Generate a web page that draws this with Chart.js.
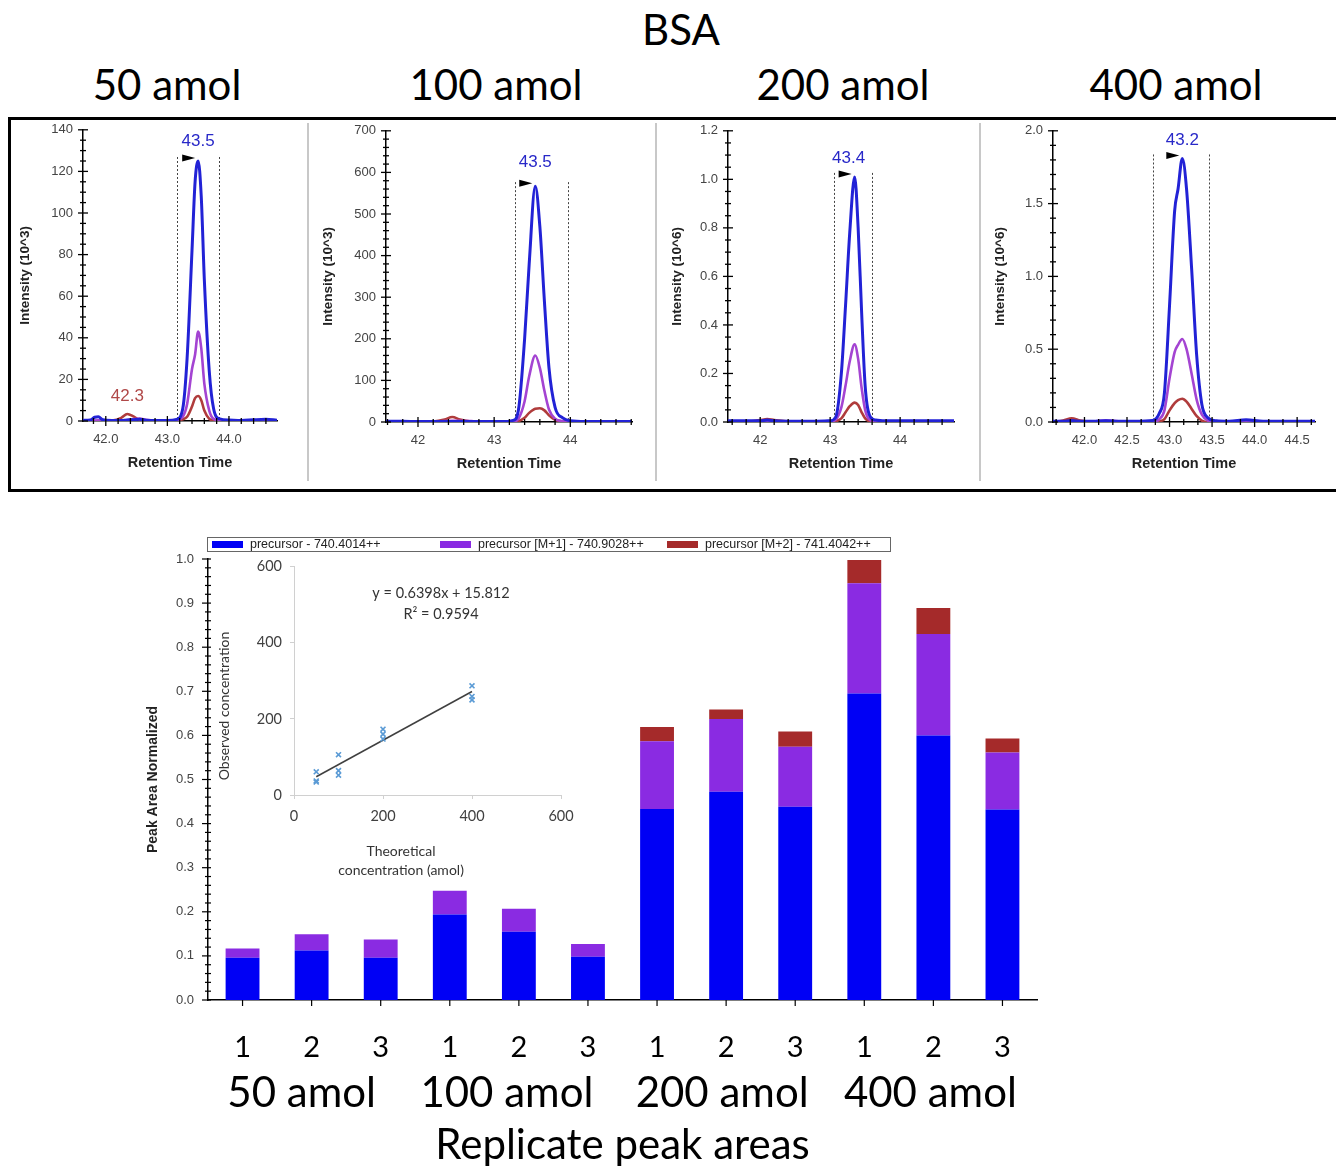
<!DOCTYPE html>
<html><head><meta charset="utf-8">
<script src="https://cdn.jsdelivr.net/npm/chart.js@4.4.1/dist/chart.umd.min.js"></script>
<style>
html,body{margin:0;padding:0;background:#fff;}
#page{position:relative;width:1336px;height:1171px;overflow:hidden;background:#fff;}
.t{position:absolute;font-family:Lato,sans-serif;color:#000;white-space:nowrap;transform:translate(-50%,-50%);line-height:1;font-size:42px;}
canvas{position:absolute;}
#box{position:absolute;left:8px;top:117px;width:1400px;height:375px;border:3px solid #000;box-sizing:border-box;}
.sep{position:absolute;top:123px;height:358px;width:2px;background:#c8c8c8;}
</style></head><body><div id="page">
<div class="t" style="left:681px;top:29px;">BSA</div>
<div class="t" style="left:167px;top:84px;">50 amol</div>
<div class="t" style="left:496px;top:84px;">100 amol</div>
<div class="t" style="left:843px;top:84px;">200 amol</div>
<div class="t" style="left:1176px;top:84px;">400 amol</div>
<div id="box"></div>
<div class="sep" style="left:307px"></div>
<div class="sep" style="left:655px"></div>
<div class="sep" style="left:979px"></div>
<canvas id="c1" width="294" height="374" style="left:12px;top:112px"></canvas>
<canvas id="c2" width="335" height="374" style="left:311px;top:113px"></canvas>
<canvas id="c3" width="312" height="374" style="left:660px;top:113px"></canvas>
<canvas id="c4" width="350" height="374" style="left:983px;top:113px"></canvas>
<canvas id="bar" width="910" height="641" style="left:140px;top:530px"></canvas>
<canvas id="inset" width="400" height="335" style="left:200px;top:550px"></canvas>
</div>
<script>
// ---------- Chromatogram data (retention time, intensity) ----------
const rt1 = [41.63,41.75,41.82,41.88,41.95,42.1,42.25,42.35,42.45,42.55,42.65,42.8,43.0,43.15,43.25,43.32,43.4,43.45,43.5,43.55,43.6,43.68,43.75,43.85,44.0,44.2,44.4,44.6,44.78];
const blue1 = [0.3,0.5,1.8,2.0,0.6,0.2,0.3,0.5,0.6,0.8,0.4,0.2,0.3,0.8,6,30,82,115,125,108,68,24,6,1,0.5,0.3,0.6,0.8,0.4];
const purple1 = [0,0,0.2,0.3,0.2,0,0.2,0.5,0.9,1.2,0.6,0.2,0.2,0.5,2,8,25,32,43,35,18,5,1,0.3,0.2,0,0,0,0];
const red1 = [0,0,0,0,0,0.2,1.5,3.4,2.2,0.5,0.2,0,0,0.2,0.8,2,7,11,12,10,5,1,0.3,0,0,0,0,0,0];

const rt2 = [41.58,41.8,42.0,42.2,42.35,42.45,42.55,42.7,42.9,43.1,43.25,43.32,43.4,43.46,43.54,43.6,43.66,43.72,43.8,43.9,44.0,44.2,44.5,44.81];
const blue2 = [2,2,1,1,1,1,1,1,1,1,4,30,200,380,567,470,290,130,35,10,3,1,1,1];
const purple2 = [0,0,0,1,2,3,3,2,0,0,1,8,50,110,160,130,75,30,8,2,0,0,0,0];
const red2 = [0,0,0,1,6,12,6,1,0,0,0,2,10,22,32,33,28,16,5,1,0,0,0,0];

const rt3 = [41.54,41.8,42.0,42.1,42.2,42.5,42.8,43.0,43.08,43.16,43.22,43.28,43.35,43.4,43.45,43.5,43.56,43.65,43.8,44.0,44.3,44.5,44.77];
const blue3 = [0.005,0.005,0.005,0.008,0.005,0.003,0.003,0.005,0.02,0.2,0.48,0.78,1.01,0.8,0.45,0.15,0.03,0.008,0.005,0.005,0.005,0.005,0.005];
const purple3 = [0,0,0.003,0.005,0.003,0,0,0.002,0.01,0.06,0.15,0.25,0.32,0.26,0.14,0.05,0.01,0.002,0,0,0,0,0];
const red3 = [0,0,0.008,0.012,0.008,0,0,0,0.003,0.015,0.04,0.065,0.08,0.07,0.04,0.015,0.003,0,0,0,0,0,0];

const rt4 = [41.63,41.75,41.85,41.95,42.1,42.25,42.4,42.6,42.8,42.88,42.94,43.0,43.06,43.1,43.15,43.2,43.26,43.32,43.38,43.45,43.55,43.7,43.9,44.1,44.4,44.71];
const blue4 = [0.005,0.005,0.01,0.005,0.005,0.008,0.005,0.005,0.01,0.06,0.2,0.8,1.45,1.6,1.81,1.6,1.05,0.45,0.12,0.03,0.008,0.005,0.015,0.005,0.005,0.005];
const purple4 = [0,0,0.005,0.005,0.005,0.012,0.005,0,0,0.02,0.08,0.3,0.48,0.53,0.57,0.5,0.33,0.15,0.05,0.01,0,0,0.005,0,0,0];
const red4 = [0,0.01,0.025,0.01,0,0,0,0,0,0.005,0.02,0.08,0.13,0.15,0.16,0.14,0.09,0.04,0.01,0,0,0,0,0,0,0];

// tick labels
const xTicks1 = [42.0,43.0,44.0];
const xTicks2 = [42,43,44];
const xTicks3 = [42,43,44];
const xTicks4 = [42.0,42.5,43.0,43.5,44.0,44.5];
const yTicks1 = [0,20,40,60,80,100,120,140];
const yTicks2 = [0,100,200,300,400,500,600,700];
const yTicks3 = [0,0.2,0.4,0.6,0.8,1.0,1.2];
const yTicks4 = [0,0.5,1.0,1.5,2.0];

// peak annotations
const peakLabels = ['43.5','43.5','43.4','43.2'];
const peakRT = [43.5,43.54,43.35,43.15];
const peakTop = [125,567,1.01,1.81];
const peakBounds = [[43.15,43.84],[43.28,43.97],[43.05,43.6],[42.81,43.46]];

// ---------- Bar chart data ----------
const replicateLabels = ['1','2','3','1','2','3','1','2','3','1','2','3'];
const groupLabels = ['50 amol','100 amol','200 amol','400 amol'];
const seriesNames = ['precursor - 740.4014++','precursor [M+1] - 740.9028++','precursor [M+2] - 741.4042++'];
const blueVals = [0.096,0.112,0.096,0.194,0.155,0.098,0.433,0.472,0.438,0.695,0.600,0.432];
const purpleVals = [0.021,0.037,0.041,0.054,0.052,0.029,0.154,0.165,0.136,0.250,0.230,0.129];
const redVals = [0,0,0,0,0,0,0.032,0.022,0.035,0.053,0.059,0.032];
const barYTicks = [0,0.1,0.2,0.3,0.4,0.5,0.6,0.7,0.8,0.9,1.0];

// ---------- Inset scatter data ----------
const theoX = [50,50,50,100,100,100,200,200,200,400,400,400];
const obsY = [61,37,34,106,64,52,173,160,147,287,259,250];
const trendX = [50,400];
const trendY = [48,272];
const insetTicks = [0,200,400,600];

const LB = '#2222d6', LP = '#a444d2', LR = '#b03c3c';
const FONT = 'Liberation Sans';

const chromPlugin = {
  id:'chrom',
  beforeDatasetsDraw(chart){
    const c = chart.options.plugins.chrom, ctx = chart.ctx, x = chart.scales.x, y = chart.scales.y;
    ctx.save(); ctx.strokeStyle = '#444'; ctx.lineWidth = 1; ctx.setLineDash([2,2]);
    const top = y.getPixelForValue(c.apexY) - 4, bot = y.getPixelForValue(0);
    c.bounds.forEach(b => { const px = Math.round(x.getPixelForValue(b)) + 0.5; ctx.beginPath(); ctx.moveTo(px, top); ctx.lineTo(px, bot); ctx.stroke(); });
    ctx.restore();
  },
  afterDraw(chart){
    const c = chart.options.plugins.chrom, ctx = chart.ctx, x = chart.scales.x, y = chart.scales.y;
    const a = chart.chartArea;
    ctx.save(); ctx.strokeStyle = '#000'; ctx.lineWidth = 1.3;
    const line = (x1,y1,x2,y2) => { ctx.beginPath(); ctx.moveTo(x1,y1); ctx.lineTo(x2,y2); ctx.stroke(); };
    const ny = Math.round(c.yMax / c.yMinor);
    for (let i = 0; i <= ny; i++) {
      const v = i * c.yMinor, py = y.getPixelForValue(v);
      const major = c.yLabels.some(l => Math.abs(l - v) < 1e-9);
      const len = major ? 5 : 3;
      line(a.left - len, py, a.left + len, py);
    }
    const i0 = Math.ceil(c.xMin / c.xMinor - 1e-9), i1 = Math.floor(c.xMax / c.xMinor + 1e-9);
    for (let i = i0; i <= i1; i++) {
      const v = i * c.xMinor, px = x.getPixelForValue(v);
      const major = c.xLabels.some(l => Math.abs(l - v) < 1e-9);
      const len = major ? 5 : 3;
      line(px, a.bottom - len, px, a.bottom + len);
    }
    // arrow + apex label
    const ax = x.getPixelForValue(c.apexX) - 3, ay = y.getPixelForValue(c.apexY) - 3;
    ctx.fillStyle = '#000';
    ctx.beginPath(); ctx.moveTo(ax, ay); ctx.lineTo(ax - 13, ay - 3.5); ctx.lineTo(ax - 13, ay + 3.5); ctx.closePath(); ctx.fill();
    ctx.font = '17px "' + FONT + '"'; ctx.textAlign = 'center'; ctx.textBaseline = 'middle';
    ctx.fillStyle = '#2828c8';
    ctx.fillText(c.label, x.getPixelForValue(c.apexX) + (c.labelDx || 0), ay - c.labelDy);
    (c.extra || []).forEach(e => {
      ctx.fillStyle = e.color;
      ctx.fillText(e.text, x.getPixelForValue(e.x), y.getPixelForValue(e.y) - 18);
    });
    ctx.restore();
  }
};

function chrom(id, rt, b, p, r, cfg) {
  const mk = arr => rt.map((t, i) => ({x: t, y: arr[i]}));
  new Chart(document.getElementById(id), {
    type: 'line',
    data: {datasets: [
      {data: mk(b), borderColor: LB, borderWidth: 3},
      {data: mk(p), borderColor: LP, borderWidth: 2.6},
      {data: mk(r), borderColor: LR, borderWidth: 2.6}
    ]},
    options: {
      responsive: false, animation: false, events: [],
      layout: {padding: {left: 0, right: cfg.padR, top: 0, bottom: 14}},
      elements: {point: {radius: 0}, line: {cubicInterpolationMode: 'monotone', borderJoinStyle: 'round', borderCapStyle: 'round'}},
      plugins: {legend: {display: false}, tooltip: {enabled: false}, chrom: cfg},
      scales: {
        x: {type: 'linear', min: cfg.xMin, max: cfg.xMax,
          grid: {display: false, drawTicks: false}, border: {color: '#000', width: 1.5},
          afterBuildTicks: s => { s.ticks = cfg.xLabels.map(v => ({value: v})); },
          afterFit: s => { s.height = 51; },
          ticks: {padding: 11, color: '#444', font: {family: FONT, size: 13}, maxRotation: 0, autoSkip: false,
            callback: v => Number(v).toFixed(cfg.xDec)},
          title: {display: true, text: 'Retention Time', color: '#222', font: {family: FONT, size: 14.5, weight: 'bold'}, padding: 0}
        },
        y: {min: 0, max: cfg.yMax,
          grid: {display: false, drawTicks: false}, border: {color: '#000', width: 1.5},
          afterBuildTicks: s => { s.ticks = cfg.yLabels.map(v => ({value: v})); },
          afterFit: s => { s.width = cfg.yW; },
          ticks: {padding: 10, color: '#444', font: {family: FONT, size: 13}, autoSkip: false,
            callback: v => Number(v).toFixed(cfg.yDec)},
          title: {display: true, text: cfg.yTitle, color: '#222', font: {family: FONT, size: 13.5, weight: 'bold'}, padding: {top: cfg.tPad, bottom: 0}}
        }
      }
    },
    plugins: [chromPlugin]
  });
}

chrom('c1', rt1, blue1, purple1, red1, {xMin: 41.63, xMax: 44.78, xLabels: xTicks1, xDec: 1, xMinor: 0.2,
  yMax: 140, yLabels: yTicks1, yDec: 0, yMinor: 5, yW: 71, padR: 29, tPad: 5, yTitle: 'Intensity (10^3)',
  apexX: peakRT[0], apexY: peakTop[0], bounds: peakBounds[0], label: peakLabels[0], labelDy: 17,
  extra: [{text: '42.3', x: 42.35, y: 3.4, color: '#b04848'}]});
chrom('c2', rt2, blue2, purple2, red2, {xMin: 41.58, xMax: 44.81, xLabels: xTicks2, xDec: 0, xMinor: 0.2,
  yMax: 700, yLabels: yTicks2, yDec: 0, yMinor: 20, yW: 75, padR: 14, tPad: 9, yTitle: 'Intensity (10^3)',
  apexX: peakRT[1], apexY: peakTop[1], bounds: peakBounds[1], label: peakLabels[1], labelDy: 21});
chrom('c3', rt3, blue3, purple3, red3, {xMin: 41.54, xMax: 44.77, xLabels: xTicks3, xDec: 0, xMinor: 0.2,
  yMax: 1.2, yLabels: yTicks3, yDec: 1, yMinor: 0.05, yW: 68, padR: 18, tPad: 9, yTitle: 'Intensity (10^6)',
  apexX: peakRT[2], apexY: peakTop[2], bounds: peakBounds[2], label: peakLabels[2], labelDy: 16, labelDx: -6});
chrom('c4', rt4, blue4, purple4, red4, {xMin: 41.63, xMax: 44.71, xLabels: xTicks4, xDec: 1, xMinor: 0.5/3,
  yMax: 2.0, yLabels: yTicks4, yDec: 1, yMinor: 0.1, yW: 70, padR: 18, tPad: 9, yTitle: 'Intensity (10^6)',
  apexX: peakRT[3], apexY: peakTop[3], bounds: peakBounds[3], label: peakLabels[3], labelDy: 15});

// ---------- Bar chart ----------
const groupShift = [-10, -12, -4, -3];
const barPlugin = {
  id: 'barDeco',
  afterDraw(chart) {
    const ctx = chart.ctx, x = chart.scales.x, y = chart.scales.y, a = chart.chartArea;
    ctx.save();
    ctx.strokeStyle = '#000'; ctx.lineWidth = 1.2;
    const line = (x1,y1,x2,y2) => { ctx.beginPath(); ctx.moveTo(x1,y1); ctx.lineTo(x2,y2); ctx.stroke(); };
    for (let i = 0; i <= 50; i++) {
      const v = i * 0.02, py = y.getPixelForValue(v);
      const major = i % 5 === 0;
      if (major) line(a.left - 6, py, a.left + 3, py); else line(a.left - 3, py, a.left + 3, py);
    }
    chart.data.labels.forEach((l, i) => { const px = x.getPixelForValue(i); line(px, a.bottom, px, a.bottom + 6); });
    // x labels
    ctx.fillStyle = '#000'; ctx.textAlign = 'center'; ctx.textBaseline = 'alphabetic';
    ctx.font = '29px Lato';
    chart.data.labels.forEach((l, i) => ctx.fillText(l, x.getPixelForValue(i), 527));
    ctx.font = '42px Lato';
    groupLabels.forEach((g, k) => {
      const cx = (x.getPixelForValue(k*3) + x.getPixelForValue(k*3+2)) / 2 + groupShift[k];
      ctx.fillText(g, cx, 577);
    });
    ctx.fillText('Replicate peak areas', (a.left + a.right) / 2, 629);
    // legend
    ctx.strokeStyle = '#666'; ctx.lineWidth = 1;
    ctx.strokeRect(67.5, 7.5, 683, 14);
    const sw = [[72,110],[300,338],[527,565]];
    ctx.font = '12.5px "' + FONT + '"'; ctx.textAlign = 'left'; ctx.textBaseline = 'middle';
    chart.data.datasets.forEach((d, i) => {
      ctx.fillStyle = d.backgroundColor; ctx.fillRect(sw[i][0], 11, 31, 7);
      ctx.fillStyle = '#222'; ctx.fillText(d.label, sw[i][1], 15);
    });
    ctx.restore();
  }
};

new Chart(document.getElementById('bar'), {
  type: 'bar',
  data: {labels: replicateLabels, datasets: [
    {label: seriesNames[0], data: blueVals, backgroundColor: '#0000f5'},
    {label: seriesNames[1], data: purpleVals, backgroundColor: '#8a2be2'},
    {label: seriesNames[2], data: redVals, backgroundColor: '#a52a2a'}
  ]},
  options: {
    responsive: false, animation: false, events: [],
    layout: {padding: {left: 0, right: 13, top: 29, bottom: 0}},
    datasets: {bar: {categoryPercentage: 0.49, barPercentage: 1, borderWidth: 0}},
    plugins: {legend: {display: false}, tooltip: {enabled: false}},
    scales: {
      x: {stacked: true, grid: {display: false, drawTicks: false}, border: {color: '#000', width: 1.5},
        afterFit: s => { s.height = 171; }, ticks: {display: false}},
      y: {stacked: true, min: 0, max: 1, grid: {display: false, drawTicks: false}, border: {color: '#000', width: 1.5},
        afterBuildTicks: s => { s.ticks = barYTicks.map(v => ({value: v})); },
        afterFit: s => { s.width = 68; },
        ticks: {padding: 14, color: '#444', font: {family: FONT, size: 13}, callback: v => Number(v).toFixed(1)},
        title: {display: true, text: 'Peak Area Normalized', color: '#222', font: {family: FONT, size: 14, weight: 'bold'}, padding: {top: 5, bottom: 0}}}
    }
  },
  plugins: [barPlugin]
});

// ---------- Inset scatter ----------
const insetPlugin = {
  id: 'insetText',
  afterDraw(chart) {
    const ctx = chart.ctx;
    ctx.save();
    ctx.fillStyle = '#333'; ctx.textAlign = 'center'; ctx.textBaseline = 'middle';
    ctx.font = '14.5px Lato';
    ctx.fillText('y = 0.6398x + 15.812', 241, 43);
    ctx.fillText('R² = 0.9594', 241, 64);
    ctx.font = '14px Lato';
    ctx.fillText('Theoretical', 201, 301);
    ctx.fillText('concentration (amol)', 201, 320);
    ctx.translate(24, 156); ctx.rotate(-Math.PI / 2);
    ctx.fillText('Observed concentration', 0, 0);
    ctx.restore();
  }
};

new Chart(document.getElementById('inset'), {
  type: 'scatter',
  data: {datasets: [
    {data: theoX.map((t, i) => ({x: t, y: obsY[i]})), pointStyle: 'crossRot', pointRadius: 3.5, borderColor: '#5b9bd5', backgroundColor: '#5b9bd5', borderWidth: 1.6},
    {data: trendX.map((t, i) => ({x: t, y: trendY[i]})), showLine: true, pointRadius: 0, borderColor: '#404040', borderWidth: 1.5}
  ]},
  options: {
    responsive: false, animation: false, events: [],
    layout: {padding: {left: 0, right: 39, top: 0, bottom: 0}},
    plugins: {legend: {display: false}, tooltip: {enabled: false}},
    scales: {
      x: {type: 'linear', min: 0, max: 600,
        afterBuildTicks: s => { s.ticks = insetTicks.map(v => ({value: v})); },
        afterFit: s => { s.height = 90; },
        grid: {display: true, drawOnChartArea: false, color: '#d0d0d0', tickLength: 4}, border: {color: '#d0d0d0', width: 1},
        ticks: {padding: 9, color: '#404040', font: {family: 'Lato', size: 14.5}}},
      y: {min: 0, max: 600,
        afterBuildTicks: s => { s.ticks = insetTicks.map(v => ({value: v})); },
        afterFit: s => { s.width = 94; },
        grid: {display: true, drawOnChartArea: false, color: '#d0d0d0', tickLength: 4}, border: {color: '#d0d0d0', width: 1},
        ticks: {padding: 8, color: '#404040', font: {family: 'Lato', size: 14.5}}}
    }
  },
  plugins: [insetPlugin]
});
</script>
</body></html>
